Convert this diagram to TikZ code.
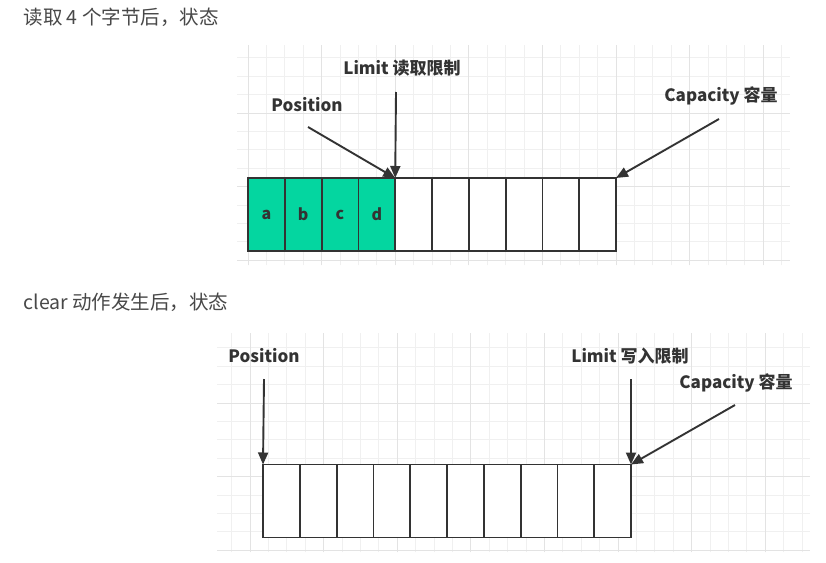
\documentclass[tikz,border=0pt]{standalone}
\usepackage{fontspec}
\setmainfont{Noto Sans CJK SC}
\usepackage{tikz}
\usetikzlibrary{positioning, arrows.meta}
\definecolor{byteGreen}{RGB}{4,214,160}
\definecolor{inkGray}{RGB}{51,51,51}
\definecolor{titleGray}{RGB}{72,72,72}
\tikzset{
    gridminor/.style={draw=black!6, line width=0.8pt}, % fine grid of the canvas
    gridmajor/.style={draw=black!11, line width=0.9pt}, % every fourth line
    cell/.style={ % one byte of the buffer
        draw=inkGray,
        line width=1.8pt,
        fill=white,
        minimum width=36.8pt,
        minimum height=73pt,
        inner sep=0pt,
        outer sep=0pt
    },
    pointer/.style={ % arrows that point at the buffer
        draw=inkGray,
        line width=1.9pt,
        -{Triangle[length=12pt,width=10pt]}
    }
}

\begin{document}
\begin{tikzpicture}[x=1pt,y=-1pt]
        \tikzset{
            caption/.style={anchor=west,text=titleGray,font=\fontsize{19.5}{22}\selectfont},
            pointlabel/.style={text=inkGray,font=\bfseries\fontsize{17}{20}\selectfont},
        }
        \useasboundingbox[fill=white] (0,0) rectangle (826,562);
        %
        % canvas grids
        \begin{scope}[shift={(248,113)}]
            \draw[gridminor,step=18.4pt] (-11,152) grid (542,-68);
            \draw[gridmajor,step=73.6pt] (-11,152) grid (542,-68);
        \end{scope}
        \begin{scope}[shift={(250,403)}]
            \draw[gridminor,step=18.4pt] (-33,149) grid (560,-70);
            \draw[gridmajor,step=73.6pt] (-33,149) grid (560,-70);
        \end{scope}
        %
        % after reading 4 bytes
        \node[caption] (title1) at (20,17) {读取 4 个字节后，状态};
        \foreach \i in {1,...,10}
            \node[cell] (t\i) at ({248+(\i-0.5)*36.8},214.5) {};
        \foreach \i/\b in {1/a,2/b,3/c,4/d}
            \node[cell,fill=byteGreen] (t\i) at ({248+(\i-0.5)*36.8},214.5) {\textcolor{inkGray}{\bfseries\fontsize{16}{18}\selectfont\b}};
        %
        \node[pointlabel] (limT) at (402,68) {Limit 读取限制};
        \node[pointlabel] (posT) at (307,105) {Position};
        \node[pointlabel] (capT) at (721,96) {Capacity 容量};
        \coordinate (limTtail) at (396,92);
        \coordinate (posTtail) at (308,127);
        \coordinate (capTtail) at (719,119);
        \draw[pointer] (limTtail) -- (t4.north east);
        \draw[pointer] (posTtail) -- (t4.north east);
        \draw[pointer] (capTtail) -- (t10.north east);
        %
        % after clear
        \node[caption] (title2) at (20,302) {clear 动作发生后，状态};
        \foreach \i in {1,...,10}
            \node[cell] (b\i) at ({263+(\i-0.5)*36.8},501) {};
        %
        \node[pointlabel] (posB) at (264,356) {Position};
        \node[pointlabel] (limB) at (630,356) {Limit 写入限制};
        \node[pointlabel] (capB) at (736,383) {Capacity 容量};
        \coordinate (posBtail) at (264,379);
        \coordinate (limBtail) at (631,379);
        \coordinate (capBtail) at (735,405);
        \draw[pointer] (posBtail) -- (b1.north west);
        \draw[pointer] (limBtail) -- (b10.north east);
        \draw[pointer] (capBtail) -- (b10.north east);
    \end{tikzpicture}
\end{document}
